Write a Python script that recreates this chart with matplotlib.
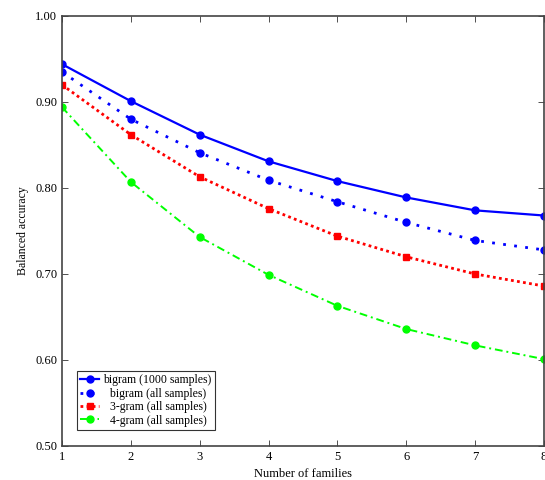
import matplotlib
matplotlib.use("Agg")
import matplotlib.pyplot as plt

families = [1, 2, 3, 4, 5, 6, 7, 8]
bigram_1000 = [0.944, 0.901, 0.862, 0.831, 0.808, 0.789, 0.774, 0.768]
bigram_all = [0.935, 0.880, 0.841, 0.809, 0.784, 0.760, 0.739, 0.728]
trigram_all = [0.920, 0.862, 0.813, 0.776, 0.744, 0.720, 0.700, 0.686]
fourgram_all = [0.894, 0.807, 0.743, 0.699, 0.663, 0.636, 0.617, 0.601]

labels = ["bigram (1000 samples)", "  bigram (all samples)",
          "  3-gram (all samples)", "  4-gram (all samples)"]
yticks = [0.50, 0.60, 0.70, 0.80, 0.90, 1.00]

plt.rcParams["font.family"] = ["Liberation Serif", "DejaVu Serif"]

fig = plt.figure(figsize=(5.45, 4.8), dpi=100)
ax = fig.add_axes([62 / 545, 34 / 480, 482 / 545, 430 / 480])

ax.plot(families, bigram_1000, color="#0000ff", linestyle="-", linewidth=1.6,
        marker="o", markersize=5, label=labels[0])
ax.plot(families, bigram_all, color="#0000ff", linestyle=(0, (1, 3)), linewidth=2.0,
        marker="o", markersize=5, label=labels[1])
ax.plot(families, trigram_all, color="#ff0000", linestyle=(0, (1, 1.2)), linewidth=2.0,
        marker="s", markersize=5, label=labels[2])
ax.plot(families, fourgram_all, color="#00ff00", linestyle=(0, (4, 2, 1, 2)), linewidth=1.4,
        marker="o", markersize=5, label=labels[3])

ax.set_xlim(1, 8)
ax.set_ylim(0.5, 1.0)
ax.set_xticks(families)
ax.set_yticks(yticks)
ax.set_yticklabels([f"{v:.2f}" for v in yticks])
ax.tick_params(direction="in", top=True, right=True, labelsize=9,
               length=4, width=0.6, colors="#333333", labelcolor="black")
for side in ax.spines.values():
    side.set_linewidth(1.2)
    side.set_color("#444444")

ax.set_xlabel("Number of families", fontsize=9)
ax.set_ylabel("Balanced accuracy", fontsize=8.5)

leg = ax.legend(loc="lower left", bbox_to_anchor=(0.031, 0.037), fontsize=8.5,
                frameon=True, fancybox=False, edgecolor="black",
                handlelength=1.6, handletextpad=0.35, borderpad=0.3,
                labelspacing=0.12, borderaxespad=0)
leg.get_frame().set_linewidth(0.8)

fig.savefig("out.png", dpi=100)
